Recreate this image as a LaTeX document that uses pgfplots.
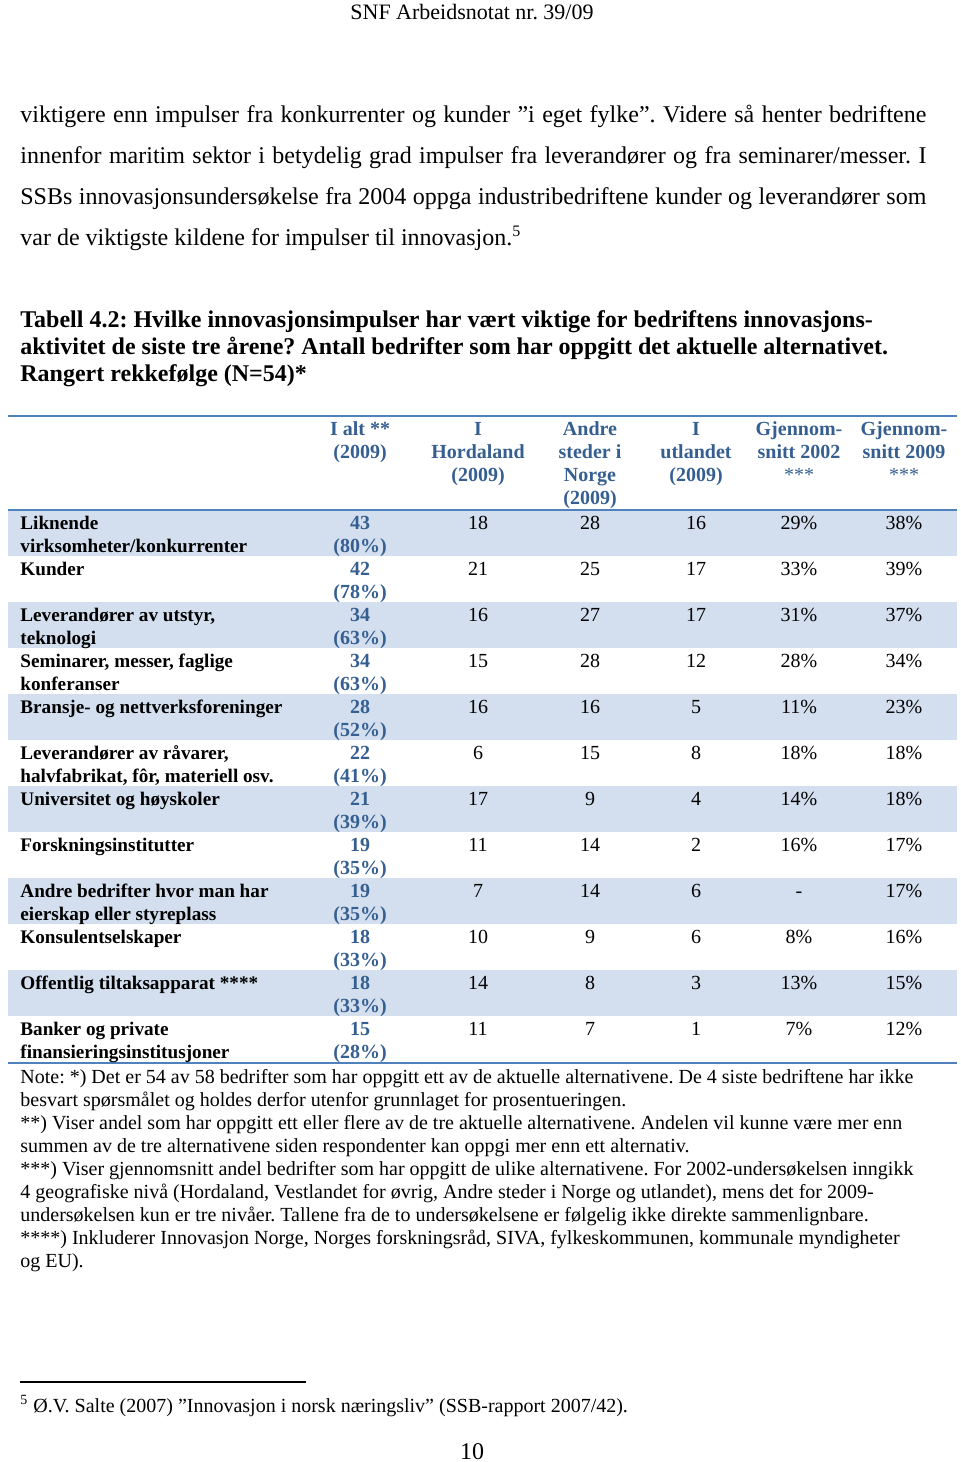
\documentclass[border=0pt]{standalone}
\usepackage{pgfplots}
\pgfplotsset{compat=1.18}
\usepackage{fontspec}
\setmainfont{Liberation Serif}
\frenchspacing
\definecolor{band}{HTML}{D3DFEE}
\definecolor{rulec}{HTML}{4F81BD}
\definecolor{head}{HTML}{365F91}
\newcommand\bodyf{\fontsize{12}{14}\selectfont}
\newcommand\tabf{\fontsize{10}{12}\selectfont}
\newcommand\labf{\fontsize{9.6}{12}\selectfont}
\newcommand\notef{\fontsize{10}{12}\selectfont}
\begin{document}
\begin{tikzpicture}
\begin{axis}[name=ax, x=0.5pt, y=0.5pt, y dir=reverse,
  xmin=0, xmax=960, ymin=0, ymax=1462, hide axis, clip=false,
  anchor=north west, at={(0,0)},
  every node near coord/.style={anchor=base, inner sep=0pt, font=\tabf},
  valnode/.style={draw=none, mark=none, nodes near coords, point meta=explicit symbolic}]
% header
\node[anchor=base, font=\fontsize{11}{13}\selectfont, inner sep=0pt] at (axis cs:472,19) {SNF Arbeidsnotat nr. 39/09};
% body
\node[anchor=base west, inner sep=0pt, font=\bodyf] at (axis cs:20,122) {\makebox[453pt][s]{viktigere enn impulser fra konkurrenter og kunder ”i eget fylke”. Videre så henter bedriftene}};
\node[anchor=base west, inner sep=0pt, font=\bodyf] at (axis cs:20,163) {\makebox[453pt][s]{innenfor maritim sektor i betydelig grad impulser fra leverandører og fra seminarer/messer. I}};
\node[anchor=base west, inner sep=0pt, font=\bodyf] at (axis cs:20,204) {\makebox[453pt][s]{SSBs innovasjonsundersøkelse fra 2004 oppga industribedriftene kunder og leverandører som}};
\node[anchor=base west, inner sep=0pt, font=\bodyf] at (axis cs:20,245) {var de viktigste kildene for impulser til innovasjon.\textsuperscript{5}};
% caption
\node[anchor=base west, inner sep=0pt, font=\bodyf\bfseries] at (axis cs:20,327) {Tabell 4.2: Hvilke innovasjonsimpulser har vært viktige for bedriftens innovasjons-};
\node[anchor=base west, inner sep=0pt, font=\bodyf\bfseries] at (axis cs:20,354) {aktivitet de siste tre årene? Antall bedrifter som har oppgitt det aktuelle alternativet.};
\node[anchor=base west, inner sep=0pt, font=\bodyf\bfseries] at (axis cs:20,381) {Rangert rekkefølge (N=54)*};
% bands
\fill[band] (axis cs:8,510) rectangle (axis cs:957,556);
\fill[band] (axis cs:8,602) rectangle (axis cs:957,648);
\fill[band] (axis cs:8,694) rectangle (axis cs:957,740);
\fill[band] (axis cs:8,786) rectangle (axis cs:957,832);
\fill[band] (axis cs:8,878) rectangle (axis cs:957,924);
\fill[band] (axis cs:8,970) rectangle (axis cs:957,1016);
\draw[rulec, line width=1pt] (axis cs:8,416) -- (axis cs:957,416);
\draw[rulec, line width=1pt] (axis cs:8,510) -- (axis cs:957,510);
\draw[rulec, line width=1pt] (axis cs:8,1063) -- (axis cs:957,1063);
% column headers
\addplot[valnode, every node near coord/.append style={font=\tabf\bfseries, text=head}] coordinates {
 (360,435) [I alt **] (360,458) [(2009)]
 (478,435) [I] (478,458) [Hordaland] (478,481) [(2009)]
 (590,435) [Andre] (590,458) [steder i] (590,481) [Norge] (590,504) [(2009)]
 (696,435) [I] (696,458) [utlandet] (696,481) [(2009)]
 (799,435) [Gjennom-] (799,458) [snitt 2002]
 (904,435) [Gjennom-] (904,458) [snitt 2009]
};
\addplot[valnode, every node near coord/.append style={font=\tabf, text=head}] coordinates {
 (799,481) [***] (904,481) [***]
};
% row labels
\addplot[valnode, every node near coord/.append style={font=\labf\bfseries, anchor=base west}] coordinates {
 (20,529) [Liknende] (20,552) [virksomheter/konkurrenter]
 (20,575) [Kunder]
 (20,621) [Leverandører av utstyr,] (20,644) [teknologi]
 (20,667) [Seminarer, messer, faglige] (20,690) [konferanser]
 (20,713) [Bransje- og nettverksforeninger]
 (20,759) [Leverandører av råvarer,] (20,782) [halvfabrikat, fôr, materiell osv.]
 (20,805) [Universitet og høyskoler]
 (20,851) [Forskningsinstitutter]
 (20,897) [Andre bedrifter hvor man har] (20,920) [eierskap eller styreplass]
 (20,943) [Konsulentselskaper]
 (20,989) [Offentlig tiltaksapparat ****]
 (20,1035) [Banker og private] (20,1058) [finansieringsinstitusjoner]
};
% I alt (2009)
\addplot[valnode, every node near coord/.append style={font=\tabf\bfseries, text=head}] coordinates {
 (360,529) [43] (360,575) [42] (360,621) [34] (360,667) [34] (360,713) [28] (360,759) [22]
 (360,805) [21] (360,851) [19] (360,897) [19] (360,943) [18] (360,989) [18] (360,1035) [15]
 (360,552) [(80\%)] (360,598) [(78\%)] (360,644) [(63\%)] (360,690) [(63\%)] (360,736) [(52\%)] (360,782) [(41\%)]
 (360,828) [(39\%)] (360,874) [(35\%)] (360,920) [(35\%)] (360,966) [(33\%)] (360,1012) [(33\%)] (360,1058) [(28\%)]
};
% I Hordaland
\addplot[valnode] coordinates {
 (478,529) [18] (478,575) [21] (478,621) [16] (478,667) [15] (478,713) [16] (478,759) [6]
 (478,805) [17] (478,851) [11] (478,897) [7] (478,943) [10] (478,989) [14] (478,1035) [11]
};
% Andre steder i Norge
\addplot[valnode] coordinates {
 (590,529) [28] (590,575) [25] (590,621) [27] (590,667) [28] (590,713) [16] (590,759) [15]
 (590,805) [9] (590,851) [14] (590,897) [14] (590,943) [9] (590,989) [8] (590,1035) [7]
};
% I utlandet
\addplot[valnode] coordinates {
 (696,529) [16] (696,575) [17] (696,621) [17] (696,667) [12] (696,713) [5] (696,759) [8]
 (696,805) [4] (696,851) [2] (696,897) [6] (696,943) [6] (696,989) [3] (696,1035) [1]
};
% Gjennomsnitt 2002
\addplot[valnode] coordinates {
 (799,529) [29\%] (799,575) [33\%] (799,621) [31\%] (799,667) [28\%] (799,713) [11\%] (799,759) [18\%]
 (799,805) [14\%] (799,851) [16\%] (799,897) [-] (799,943) [8\%] (799,989) [13\%] (799,1035) [7\%]
};
% Gjennomsnitt 2009
\addplot[valnode] coordinates {
 (904,529) [38\%] (904,575) [39\%] (904,621) [37\%] (904,667) [34\%] (904,713) [23\%] (904,759) [18\%]
 (904,805) [18\%] (904,851) [17\%] (904,897) [17\%] (904,943) [16\%] (904,989) [15\%] (904,1035) [12\%]
};
% notes
\node[anchor=base west, inner sep=0pt, font=\notef] at (axis cs:20,1083) {Note: *) Det er 54 av 58 bedrifter som har oppgitt ett av de aktuelle alternativene. De 4 siste bedriftene har ikke};
\node[anchor=base west, inner sep=0pt, font=\notef] at (axis cs:20,1106) {besvart spørsmålet og holdes derfor utenfor grunnlaget for prosentueringen.};
\node[anchor=base west, inner sep=0pt, font=\notef] at (axis cs:20,1129) {**) Viser andel som har oppgitt ett eller flere av de tre aktuelle alternativene. Andelen vil kunne være mer enn};
\node[anchor=base west, inner sep=0pt, font=\notef] at (axis cs:20,1152) {summen av de tre alternativene siden respondenter kan oppgi mer enn ett alternativ.};
\node[anchor=base west, inner sep=0pt, font=\notef] at (axis cs:20,1175) {***) Viser gjennomsnitt andel bedrifter som har oppgitt de ulike alternativene. For 2002-undersøkelsen inngikk};
\node[anchor=base west, inner sep=0pt, font=\notef] at (axis cs:20,1198) {4 geografiske nivå (Hordaland, Vestlandet for øvrig, Andre steder i Norge og utlandet), mens det for 2009-};
\node[anchor=base west, inner sep=0pt, font=\notef] at (axis cs:20,1221) {undersøkelsen kun er tre nivåer. Tallene fra de to undersøkelsene er følgelig ikke direkte sammenlignbare.};
\node[anchor=base west, inner sep=0pt, font=\notef] at (axis cs:20,1244) {****) Inkluderer Innovasjon Norge, Norges forskningsråd, SIVA, fylkeskommunen, kommunale myndigheter};
\node[anchor=base west, inner sep=0pt, font=\notef] at (axis cs:20,1267) {og EU).};
% footnote
\draw[black, line width=0.6pt] (axis cs:20,1382) -- (axis cs:306,1382);
\node[anchor=base west, inner sep=0pt, font=\notef] at (axis cs:20,1412) {\textsuperscript{5} Ø.V. Salte (2007) ”Innovasjon i norsk næringsliv” (SSB-rapport 2007/42).};
\node[anchor=base, inner sep=0pt, font=\bodyf] at (axis cs:472,1459) {10};
\end{axis}
\pgfresetboundingbox
\path (0,0) rectangle (480pt,-731pt);
\end{tikzpicture}
\end{document}
